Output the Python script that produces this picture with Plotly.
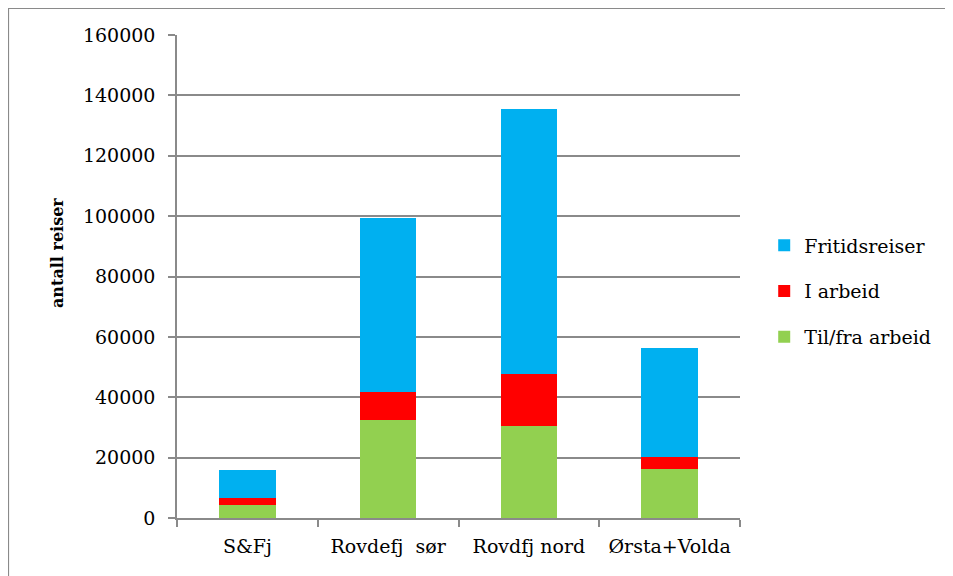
import plotly.graph_objects as go

categories = ["S&Fj", "Rovdefj  sør", "Rovdfj nord", "Ørsta+Volda"]
til_fra_arbeid = [4300, 32500, 30500, 16200]
i_arbeid = [2400, 9300, 17100, 3900]
fritidsreiser = [9200, 57600, 87800, 36100]
y_ticks = [0, 20000, 40000, 60000, 80000, 100000, 120000, 140000, 160000]
y_title = "antall reiser"

FONT = "DejaVu Serif"

fig = go.Figure()
series = [
    ("Til/fra arbeid", til_fra_arbeid, "#92D050", 3),
    ("I arbeid", i_arbeid, "#FF0000", 2),
    ("Fritidsreiser", fritidsreiser, "#00B0F0", 1),
]
for name, vals, col, rank in series:
    fig.add_trace(go.Bar(
        x=categories, y=vals, name=name, legendgroup=name, legendrank=rank,
        marker=dict(color=col, line=dict(width=0)), width=0.4,
    ))

# page has an 8px body margin: compensate
W, H = 945, 568
L, T = 169, 27
PW, PH = 563, 483
fig.update_layout(
    barmode="stack",
    width=W, height=H,
    paper_bgcolor="white", plot_bgcolor="white",
    margin=dict(l=L, r=W - L - PW, t=T, b=H - T - PH),
    font=dict(family=FONT, size=19, color="#000000"),
    legend=dict(
        x=1.043, xanchor="left", y=0.469, yanchor="middle",
        traceorder="grouped", tracegroupgap=18,
        font=dict(family=FONT, size=19, color="#000000"),
        itemwidth=30,
    ),
    showlegend=True,
)
fig.update_yaxes(
    range=[0, 160000], tickvals=y_ticks, ticktext=[str(v) for v in y_ticks],
    showgrid=True, gridcolor="#8a8a8a", gridwidth=1.5,
    showline=True, linecolor="#8a8a8a", linewidth=1.5,
    ticks="outside", ticklen=7, tickcolor="#8a8a8a", tickwidth=1.5,
    tickfont=dict(family=FONT, size=19), ticklabelstandoff=9,
    zeroline=False,
)
fig.update_xaxes(
    showline=True, linecolor="#8a8a8a", linewidth=1.5,
    ticks="outside", tickson="boundaries", ticklen=7, tickcolor="#8a8a8a", tickwidth=1.5,
    tickfont=dict(family=FONT, size=19), ticklabelstandoff=10,
    showgrid=False,
)
fig.add_annotation(
    text="<b>" + y_title + "</b>", xref="paper", yref="paper",
    x=(49 - L) / PW, y=1 - (245 - T) / PH, xanchor="center", yanchor="middle",
    textangle=-90, showarrow=False, font=dict(family=FONT, size=16),
)
fig.add_shape(type="rect", xref="paper", yref="paper",
              x0=(0.5 - L) / PW, x1=(940 - L) / PW, y0=-0.3, y1=(T + PH - 0.5) / PH,
              line=dict(color="#8a8a8a", width=1.2), layer="below")

fig.write_html("out.html")
